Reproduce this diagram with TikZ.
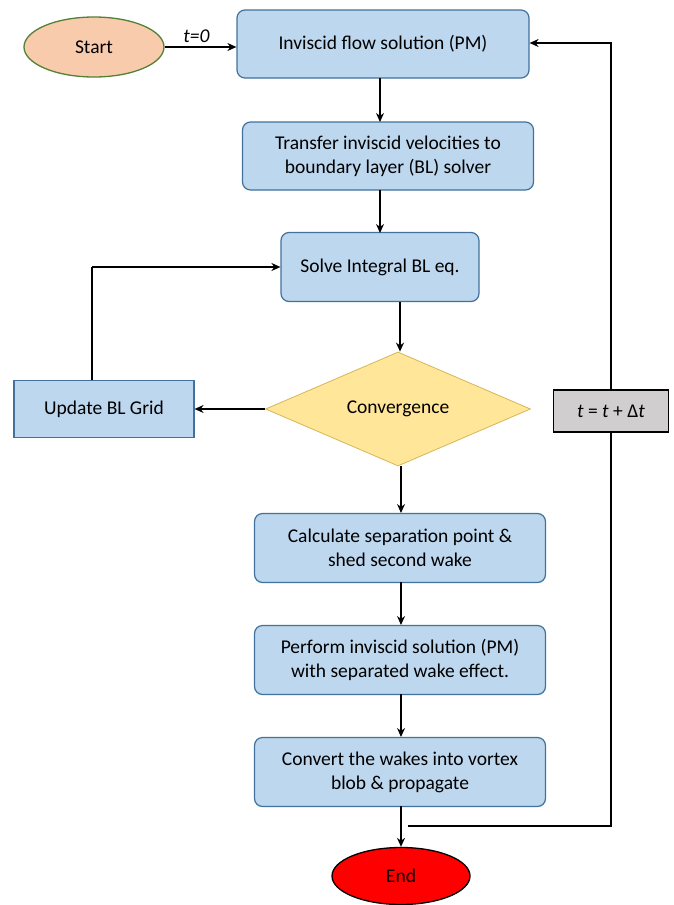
\documentclass[tikz,border=0pt]{standalone}
\usepackage{fontspec}
\setmainfont{Carlito}
\usetikzlibrary{arrows.meta,positioning,calc,shapes.geometric}
\definecolor{boxfill}{HTML}{BDD7EE}
\definecolor{boxline}{HTML}{41719C}
\definecolor{startfill}{HTML}{F8CBAD}
\definecolor{startline}{HTML}{538135}
\definecolor{decfill}{HTML}{FFE699}
\definecolor{decline}{HTML}{D6B656}
\definecolor{stepgray}{HTML}{D0CECE}
\tikzset{
  flowbox/.style={draw=boxline, fill=boxfill, line width=1.2pt, rounded corners=8pt,
    align=center, font=\fontsize{19.5}{24}\selectfont, inner sep=0pt},
  gridbox/.style={draw=boxline, fill=boxfill, line width=1.2pt,
    align=center, font=\fontsize{19.5}{24}\selectfont, inner sep=0pt},
  flowarrow/.style={-{Stealth[length=9pt,width=8pt]}, line width=1.3pt},
  flowline/.style={line width=1.3pt}
}
\begin{document}
\begin{tikzpicture}[x=1pt,y=-1pt]
        \useasboundingbox (0,0) rectangle (673,905);
        % terminals
        \node[
          ellipse,
          draw=startline,
          fill=startfill,
          line width=1.3pt,
          minimum width=140pt,
          minimum height=60pt,
          font=\fontsize{19.5}{24}\selectfont
        ] (start) at (94,47) {Start};
        \node[
          ellipse,
          draw=black,
          fill=red,
          line width=1.3pt,
          minimum width=138pt,
          minimum height=57pt,
          font=\fontsize{19.5}{24}\selectfont
        ] (end) at (401,876) {End};
        % process boxes
        \node[flowbox, minimum width=292pt, minimum height=68pt] (inviscid) at (383,44) {Inviscid flow solution (PM)};
        \node[flowbox, minimum width=291pt, minimum height=68pt] (transfer) at (388,156) {Transfer inviscid velocities to\\boundary layer (BL) solver};
        \node[flowbox, minimum width=198pt, minimum height=69pt] (solvebl) at (380,267) {Solve Integral BL eq.};
        \node[
          diamond,
          draw=decline,
          fill=decfill,
          line width=0.8pt,
          aspect=2.3,
          minimum width=265pt,
          minimum height=114pt,
          inner sep=0pt,
          font=\fontsize{19.5}{24}\selectfont
        ] (converge) at (398,409) {Convergence};
        \node[gridbox, minimum width=180pt, minimum height=57pt] (update) at (104,409) {Update BL Grid};
        \node[flowbox, minimum width=291pt, minimum height=69pt] (separation) at (400,548) {Calculate separation point \&\\shed second wake};
        \node[flowbox, minimum width=291pt, minimum height=69pt] (perform) at (400,660) {Perform inviscid solution (PM)\\with separated wake effect.};
        \node[flowbox, minimum width=291pt, minimum height=69pt] (convert) at (400,772) {Convert the wakes into vortex\\blob \& propagate};
        \node[
          draw=black,
          fill=stepgray,
          line width=1.3pt,
          minimum width=115pt,
          minimum height=42pt,
          inner sep=0pt,
          font=\fontsize{19.5}{24}\selectfont
        ] (timestep) at (611,411) {\textit{t} = \textit{t} + Δ\textit{t}};
        % main flow
        \draw[flowarrow] (start.east) -- node[above, font=\fontsize{19.5}{24}\selectfont\itshape, xshift=-4pt] {t=0} (inviscid.west |- start.east);
        \draw[flowarrow] (380,78) -- (380,122);
        \draw[flowarrow] (380,190) -- (380,233);
        \draw[flowarrow] (400,302) -- (converge.north -| 400,0);
        \draw[flowarrow] (converge.west) -- (update.east);
        \draw[flowline] (update.north -| 92,0) -- (92,267);
        \draw[flowarrow] (92,267) -- (solvebl.west);
        \draw[flowarrow] (converge.south -| 401,0) -- (401,513);
        \draw[flowarrow] (401,582) -- (401,625);
        \draw[flowarrow] (401,694) -- (401,737);
        \draw[flowarrow] (401,806) -- (end.north -| 401,0);
        % time loop
        \coordinate (loopstart) at (408,826);
        \draw[flowline] (loopstart) -- (611,826) -- (timestep.south);
        \draw[flowarrow] (timestep.north) -- (611,43) -- (inviscid.east |- 0,43);
\end{tikzpicture}
\end{document}
